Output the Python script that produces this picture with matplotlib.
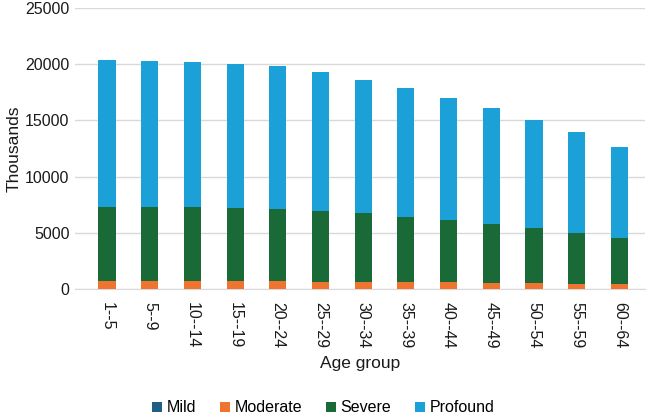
import matplotlib
matplotlib.use("Agg")
import matplotlib.pyplot as plt
import numpy as np

plt.rcParams['font.family'] = ['Liberation Sans', 'DejaVu Sans']

age_groups = ["1--5", "5--9", "10--14", "15--19", "20--24", "25--29", "30--34",
              "35--39", "40--44", "45--49", "50--54", "55--59", "60--64"]
mild = [30, 30, 30, 30, 30, 30, 30, 30, 30, 30, 30, 30, 30]
moderate = [680, 670, 670, 660, 650, 630, 610, 590, 560, 530, 490, 440, 390]
severe = [6610, 6620, 6570, 6510, 6440, 6300, 6090, 5780, 5520, 5220, 4900, 4530, 4130]
profound = [13010, 12950, 12930, 12860, 12680, 12330, 11860, 11450, 10840, 10320, 9640, 8960, 8040]

colors = {"Mild": "#1f5f86", "Moderate": "#ee7430", "Severe": "#1a6a38", "Profound": "#1ba0d8"}

fig = plt.figure(figsize=(6.47, 4.18), dpi=100)
ax = fig.add_axes([75/647, 1-289/418, 570/647, 281/418])

x = np.arange(len(age_groups))
w = 0.4
bottom = np.zeros(len(x))
for name, vals in [("Mild", mild), ("Moderate", moderate), ("Severe", severe), ("Profound", profound)]:
    ax.bar(x, vals, w, bottom=bottom, color=colors[name], label=name, zorder=3)
    bottom += np.array(vals)

ax.set_ylim(0, 25000)
ax.set_xlim(-0.75, 12.6)
ax.set_yticks(np.arange(0, 25001, 5000))
ax.yaxis.grid(True, color="#d9d9d9", linewidth=1, zorder=0)
for s in ["top", "right", "left"]:
    ax.spines[s].set_visible(False)
ax.spines["bottom"].set_color("#d9d9d9")
ax.tick_params(axis="both", length=0, labelsize=11.5, colors="#1a1a1a")
ax.tick_params(axis="y", pad=4)
ax.tick_params(axis="x", pad=9)
ax.set_xticks(x)
ax.set_xticklabels(age_groups, rotation=-90, va="top", ha="center")
ax.set_ylabel("Thousands", fontsize=12.5, color="#1a1a1a")
ax.yaxis.set_label_coords(-0.093, 0.5)
ax.set_xlabel("Age group", fontsize=12.5, color="#1a1a1a", labelpad=6)

handles, labels = ax.get_legend_handles_labels()
fig.legend(handles, labels, loc="center", bbox_to_anchor=(0.5, 1-408/418), ncol=4,
           frameon=False, fontsize=11.5, handlelength=0.6, handleheight=0.6,
           handletextpad=0.3, columnspacing=1.5)

fig.savefig("out.png", dpi=100)
